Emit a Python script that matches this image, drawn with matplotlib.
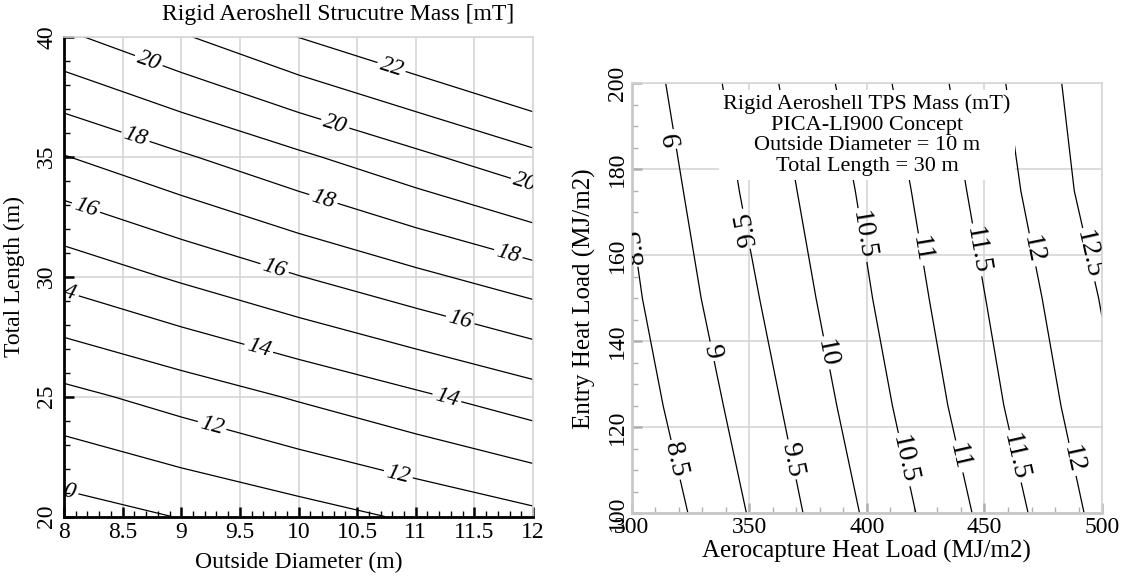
import matplotlib
matplotlib.use('Agg')
import numpy as np
import matplotlib.pyplot as plt
from matplotlib.ticker import MultipleLocator, FormatStrFormatter

plt.rcParams['font.family'] = ['Liberation Serif', 'DejaVu Serif']

# left chart: structure mass [mT] over outside diameter (m) x total length (m)
diameter = [8, 9, 10, 11, 12]
length = [20, 25, 30, 35, 40]
struct_mass = [
    [9.52, 10.04, 10.57, 11.15, 11.75],
    [11.71, 12.40, 13.11, 13.83, 14.57],
    [14.32, 15.15, 15.97, 16.77, 17.57],
    [16.96, 17.88, 18.82, 19.78, 20.76],
    [19.82, 20.90, 22.02, 23.03, 24.07],
]
struct_levels = [10, 11, 12, 13, 14, 15, 16, 17, 18, 19, 20, 21, 22]

# right chart: TPS mass (mT) over aerocapture x entry heat load (MJ/m2)
aero_load = [300, 350, 400, 450, 500]
entry_load = [100, 125, 150, 175, 200]
tps_mass = [
    [8.02, 9.025, 10.065, 11.11, 12.16],
    [8.24, 9.215, 10.27, 11.33, 12.36],
    [8.41, 9.41, 10.45, 11.49, 12.53],
    [8.54, 9.59, 10.60, 11.66, 12.76],
    [8.70, 9.74, 10.78, 11.81, 12.86],
]
tps_levels = [8.5, 9, 9.5, 10, 10.5, 11, 11.5, 12, 12.5]
tps_note = ["Rigid Aeroshell TPS Mass (mT)", "PICA-LI900 Concept",
            "Outside Diameter = 10 m", "Total Length = 30 m"]

# where the contour labels sit
struct_label_pos = [(8.72, 38.96), (8.61, 35.83), (8.19, 32.92), (9.80, 30.42),
                    (10.79, 38.68), (10.31, 36.32), (11.93, 33.9), (10.21, 33.2),
                    (11.79, 30.97), (8.0, 29.3), (9.66, 27.0), (9.26, 23.75),
                    (8.0, 21.1), (11.38, 28.2), (11.26, 24.86), (10.85, 21.74)]
tps_label_pos = [(301, 162), (317.5, 187), (347, 166), (395.6, 164.5),
                 (419.3, 161), (444.2, 161), (467.9, 161), (493.1, 160),
                 (318.3, 112.4), (333.6, 137.6), (367, 112.4), (381.9, 137.2),
                 (415.2, 112.4), (439.2, 113.2), (461.1, 113), (486.3, 112.4)]
flipped = [0, 1, 2]

FS = 17
GRID = '#d6d6d6'


def style_axes(ax, xmaj, xmin, ymaj, ymin, axis_color, tick_color, spine_w):
    ax.xaxis.set_major_locator(MultipleLocator(xmaj))
    ax.xaxis.set_minor_locator(MultipleLocator(xmin))
    ax.yaxis.set_major_locator(MultipleLocator(ymaj))
    ax.yaxis.set_minor_locator(MultipleLocator(ymin))
    ax.xaxis.set_major_formatter(FormatStrFormatter('%g'))
    ax.yaxis.set_major_formatter(FormatStrFormatter('%g'))
    ax.grid(True, which='major', color=GRID, lw=1.2)
    ax.set_axisbelow(True)
    for s in ['top', 'right']:
        ax.spines[s].set_color(GRID)
        ax.spines[s].set_linewidth(1.2)
    for s in ['left', 'bottom']:
        ax.spines[s].set_color(axis_color)
        ax.spines[s].set_linewidth(spine_w)
    ax.tick_params(which='both', direction='in', top=False, right=False,
                   labelsize=FS, color=tick_color)
    ax.tick_params(which='major', length=7, width=1.8)
    ax.tick_params(which='minor', length=4, width=1.0)
    for lab in ax.get_yticklabels():
        lab.set_rotation(90)
        lab.set_va('center')


fig = plt.figure(figsize=(11.25, 5.76), dpi=100)
ax1 = fig.add_axes([0.0569, 0.1030, 0.4169, 0.8333])
ax2 = fig.add_axes([0.5616, 0.1089, 0.418, 0.7465])

# left
cs1 = ax1.contour(diameter, length, np.array(struct_mass), levels=struct_levels,
                  colors='black', linewidths=0.9)
t1 = ax1.clabel(cs1, fmt='%d', fontsize=FS, inline=True, inline_spacing=3,
                manual=struct_label_pos)
for t in t1:
    t.set_fontstyle('italic')
    t.set_clip_on(True)
ax1.set_xlim(8, 12)
ax1.set_ylim(20, 40)
style_axes(ax1, 0.5, 0.1, 5, 1, 'black', 'black', 2.0)
ax1.tick_params(axis='x', pad=4)
ax1.tick_params(axis='y', pad=5)
ax1.set_xlabel('Outside Diameter (m)', fontsize=FS, labelpad=6)
ax1.set_ylabel('Total Length (m)', fontsize=FS, labelpad=8)
fig.text(0.3006, 0.974, 'Rigid Aeroshell Strucutre Mass [mT]', fontsize=FS,
         ha='center', va='center')

# right
cs2 = ax2.contour(aero_load, entry_load, np.array(tps_mass), levels=tps_levels,
                  colors='black', linewidths=0.9)
t2 = ax2.clabel(cs2, fmt='%g', fontsize=20, inline=True, inline_spacing=3,
                manual=tps_label_pos)
for i, t in enumerate(t2):
    t.set_clip_on(True)
    if i in flipped:
        t.set_rotation(t.get_rotation() + 180)
ax2.set_xlim(300, 500)
ax2.set_ylim(100, 200)
style_axes(ax2, 50, 10, 20, 5, '#c8c8c8', '#b0b0b0', 2.0)
ax2.tick_params(axis='x', pad=3)
ax2.tick_params(axis='y', pad=3)
ax2.set_xlabel('Aerocapture Heat Load (MJ/m2)', fontsize=FS + 1, labelpad=1)
ax2.set_ylabel('Entry Heat Load (MJ/m2)', fontsize=FS + 1, labelpad=8)
ax2.text(0.5, 0.975, '\n'.join(tps_note), transform=ax2.transAxes,
         ha='center', va='top', fontsize=16, linespacing=1.13,
         multialignment='center', zorder=5,
         bbox=dict(facecolor='white', edgecolor='none', pad=3))

fig.savefig('out.png', dpi=100)
